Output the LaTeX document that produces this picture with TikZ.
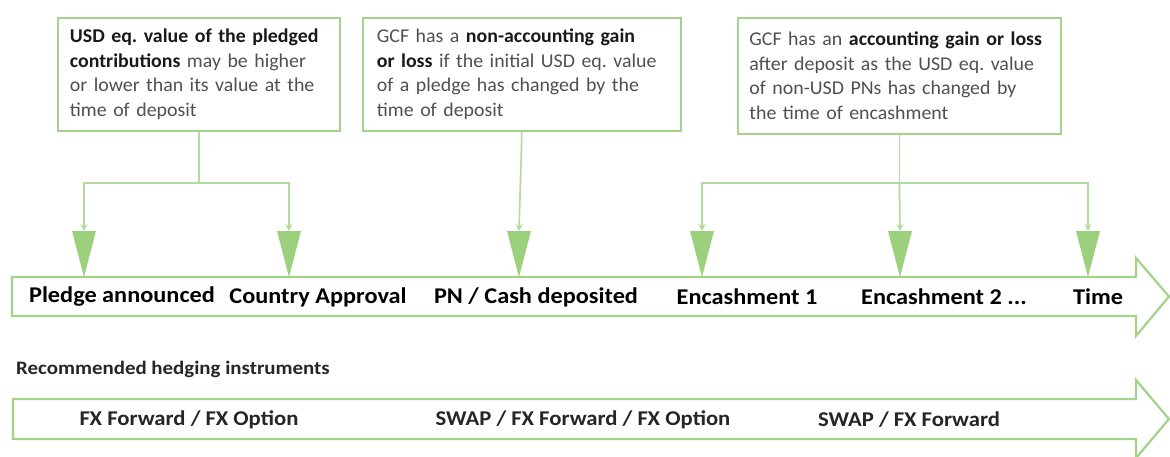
\documentclass[tikz,border=0pt]{standalone}
\usepackage{fontspec}
\setmainfont{Carlito}
\newfontfamily\boxfont[FakeStretch=1.02]{Carlito}
\newfontfamily\widefont[FakeStretch=1.08]{Carlito}
\newfontfamily\widerfont[FakeStretch=1.10]{Carlito}
\frenchspacing
\usetikzlibrary{arrows.meta,calc}
\definecolor{gline}{RGB}{165,210,138}
\definecolor{gconn}{RGB}{178,219,156}
\definecolor{gtri}{RGB}{155,209,125}
\definecolor{txtgray}{RGB}{80,80,80}
\tikzset{
  infobox/.style={draw=gline, line width=1.8pt, fill=white, anchor=north west,
    align=left, inner ysep=0pt, text=txtgray,
    font=\boxfont\fontsize{19.5}{24.5}\selectfont},
  conn/.style={draw=gconn, line width=1.7pt, -{Stealth[length=7pt,width=7pt]}},
  connline/.style={draw=gconn, line width=1.7pt},
  tri/.style={fill=gtri},
  band/.style={draw=gline, line width=2.2pt, fill=white, line join=miter},
  tlabel/.style={font=\widefont\bfseries\fontsize{22.5}{26}\selectfont, text=black, inner sep=0pt},
  hlabel/.style={font=\widefont\bfseries\fontsize{21}{24}\selectfont, text=black!85, inner sep=0pt},
  caption/.style={font=\widerfont\bfseries\fontsize{19}{22}\selectfont, text=black!85, anchor=west, inner sep=0pt},
}
\newcommand{\bk}[1]{\textbf{\color{black!90}#1}}
\begin{document}
\begin{tikzpicture}[x=1pt,y=-1pt]
\useasboundingbox (0,0) rectangle (1170,456);

% timeline bands
\path[band] (12,277) -- (1136,277) -- (1136,258) -- (1169,296.5) -- (1136,336) -- (1136,316) -- (12,316) -- cycle;
\path[band] (13,399) -- (1136,399) -- (1136,380) -- (1169,419) -- (1136,458) -- (1136,439) -- (13,439) -- cycle;

% info boxes
\node[infobox, minimum width=278pt, minimum height=113pt, text width=258pt, inner xsep=12pt] (b1) at (57,17)
  {\bk{USD eq. value of the pledged}\\ \bk{contributions} may be higher\\ or lower than its value at the\\ time of deposit};
\node[infobox, minimum width=312pt, minimum height=113pt, text width=290pt, inner xsep=14pt] (b2) at (362,17)
  {GCF has a \bk{non-accounting gain}\\ \bk{or loss} if the initial USD eq. value\\ of a pledge has changed by the\\ time of deposit};
\node[infobox, minimum width=323pt, minimum height=116pt, text width=300pt, inner xsep=11.5pt] (b3) at (737,17)
  {GCF has an \bk{accounting gain or loss}\\ after deposit as the USD eq. value\\ of non-USD PNs has changed by\\ the time of encashment};

% arrow targets (tips of the triangles)
\foreach \n/\x in {1/84,2/289,3/519,4/702,5/900,6/1088}{
  \coordinate (t\n) at (\x,277);
  \coordinate (a\n) at (\x,231);
  \fill[tri] ($(t\n)+(-12,-46)$) -- ($(t\n)+(12,-46)$) -- (t\n) -- cycle;
}
\coordinate (j1) at (b1.south |- 0,183);
\coordinate (j3) at (b3.south |- 0,183);

\draw[connline] (b1.south) -- (j1);
\draw[conn] (j1) -| (a1);
\draw[conn] (j1) -| (a2);
\draw[conn] (b2.south) -- (a3);
\draw[connline] (b3.south) -- (j3);
\draw[conn] (j3) -| (a4);
\draw[conn] (j3) -- (a5);
\draw[conn] (j3) -| (a6);

% timeline labels
\node[tlabel] (l1) at (122,297) {Pledge announced};
\node[tlabel] (l2) at (318,297) {Country Approval};
\node[tlabel] (l3) at (536,297) {PN / Cash deposited};
\node[tlabel] (l4) at (747,297) {Encashment 1};
\node[tlabel] (l5) at (944,297) {Encashment 2 ...};
\node[tlabel] (l6) at (1098,297) {Time};

\node[caption] (rh) at (16,369) {Recommended hedging instruments};

\node[hlabel] (h1) at (189,420) {FX Forward / FX Option};
\node[hlabel] (h2) at (583,420) {SWAP / FX Forward / FX Option};
\node[hlabel] (h3) at (909,420) {SWAP / FX Forward};
\end{tikzpicture}
\end{document}
